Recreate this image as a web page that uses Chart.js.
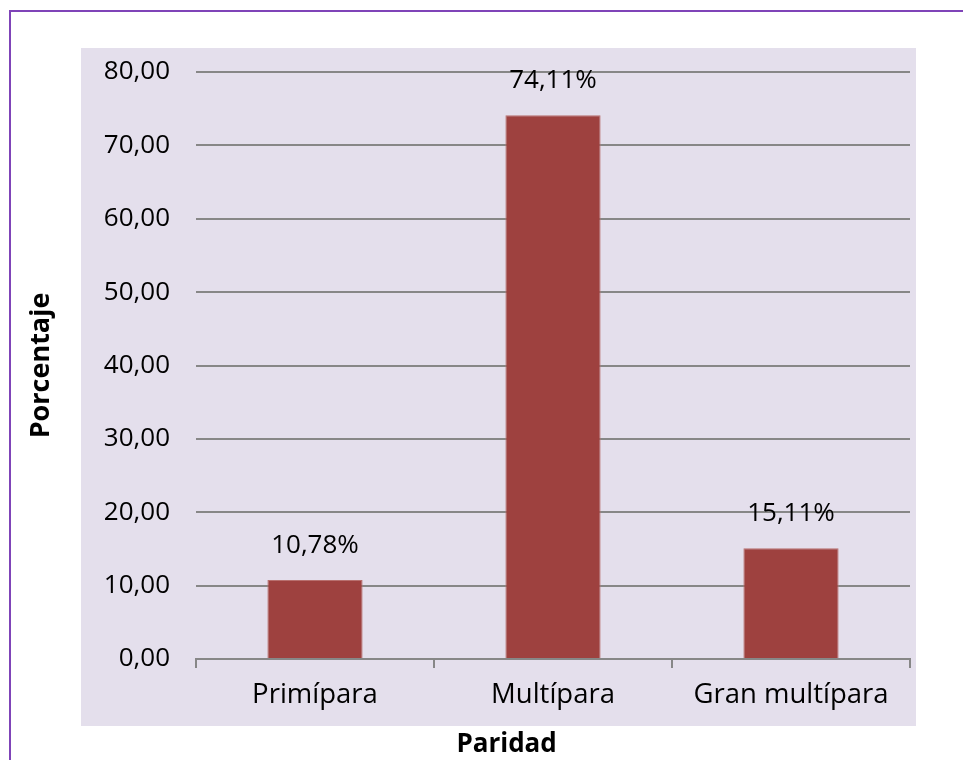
<!DOCTYPE html>
<html>
<head>
<meta charset="utf-8">
<script src="https://cdn.jsdelivr.net/npm/chart.js@4"></script>
<style>
  html, body { margin: 0; padding: 0; background: #ffffff; }
  #wrap { width: 963px; height: 760px; position: relative; }
</style>
</head>
<body>
<div id="wrap"><canvas id="paridadChart" width="963" height="760"></canvas></div>
<script>
// datos del gráfico
const categorias = ["Primípara", "Multípara", "Gran multípara"];
const porcentajes = [10.78, 74.11, 15.11];
const etiquetas = ["10,78%", "74,11%", "15,11%"];
const tituloX = "Paridad";
const tituloY = "Porcentaje";

const FONT = "'Open Sans', Lato, sans-serif";

// fondo lila + marco morado
const fondoPlugin = {
    id: "fondo",
    beforeDraw(chart) {
        const ctx = chart.ctx;
        ctx.save();
        ctx.fillStyle = "#E4DFEC";
        ctx.fillRect(81, 48, 835, 678);
        ctx.strokeStyle = "#7F44B8";
        ctx.lineWidth = 2;
        ctx.beginPath();
        ctx.moveTo(10, 760);
        ctx.lineTo(10, 11);
        ctx.lineTo(963, 11);
        ctx.stroke();
        ctx.restore();
    }
};

// etiquetas sobre las barras y título del eje x
const etiquetasPlugin = {
    id: "etiquetas",
    afterDatasetsDraw(chart) {
        const ctx = chart.ctx;
        const meta = chart.getDatasetMeta(0);
        ctx.save();
        ctx.fillStyle = "#000000";
        ctx.font = "26px " + FONT;
        ctx.textAlign = "center";
        ctx.textBaseline = "alphabetic";
        meta.data.forEach((bar, i) => {
            ctx.fillText(etiquetas[i], bar.x, bar.y - 27);
        });
        // título eje x (Excel lo deja un poco a la izquierda)
        ctx.font = "bold 26px " + FONT;
        ctx.textBaseline = "middle";
        const area = chart.chartArea;
        ctx.fillText(tituloX, area.left + (area.right - area.left) * 0.435, 745);
        ctx.restore();
    }
};

new Chart(document.getElementById("paridadChart"), {
    type: "bar",
    data: {
        labels: categorias,
        datasets: [{
            data: porcentajes,
            backgroundColor: "#9E413F",
            borderColor: "#B8706E",
            borderWidth: 1,
            barPercentage: 0.8,
            categoryPercentage: 0.5
        }]
    },
    options: {
        responsive: false,
        animation: false,
        devicePixelRatio: 1,
        layout: { padding: { top: 72, right: 53, left: 0, bottom: 0 } },
        plugins: {
            legend: { display: false },
            tooltip: { enabled: false }
        },
        scales: {
            x: {
                afterFit(scale) { scale.height = 101; },
                grid: {
                    offset: true,
                    drawOnChartArea: false,
                    drawTicks: true,
                    tickLength: 9,
                    color: "#878787",
                    lineWidth: 2
                },
                border: { display: true, color: "#878787", width: 2 },
                ticks: {
                    color: "#000000",
                    padding: 11,
                    font: { family: FONT, size: 27.5 }
                }
            },
            y: {
                min: 0,
                max: 80,
                afterFit(scale) { scale.width = 196; },
                grid: {
                    drawTicks: false,
                    color: "#878787",
                    lineWidth: 2
                },
                border: { display: false },
                ticks: {
                    stepSize: 10,
                    color: "#000000",
                    padding: 26,
                    font: { family: FONT, size: 26 },
                    callback: v => v.toFixed(2).replace(".", ",")
                },
                title: {
                    display: true,
                    text: tituloY,
                    color: "#000000",
                    padding: { top: 25, bottom: 0 },
                    font: { family: FONT, size: 27, weight: "bold" }
                }
            }
        }
    },
    plugins: [fondoPlugin, etiquetasPlugin]
});
</script>
</body>
</html>
